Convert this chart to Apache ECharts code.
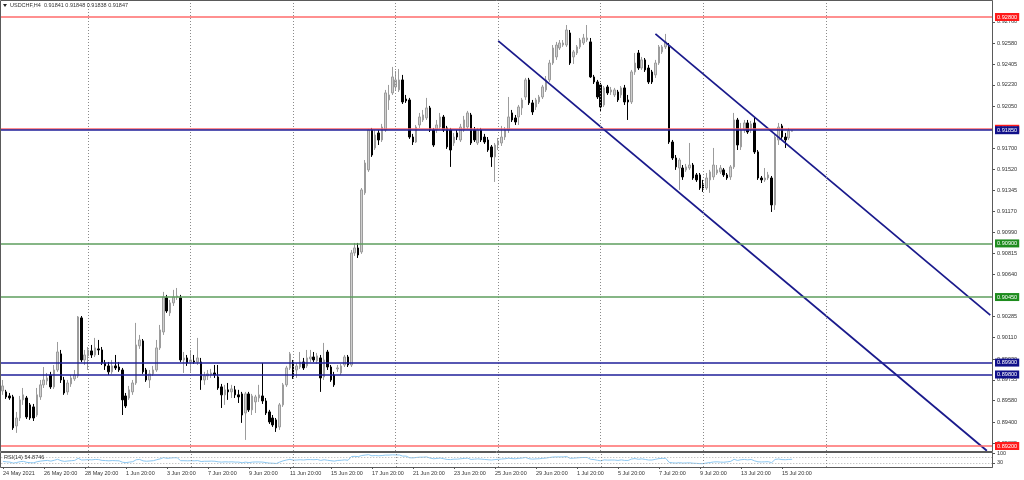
<!DOCTYPE html>
<html><head><meta charset="utf-8">
<script src="https://cdn.jsdelivr.net/npm/echarts@6/dist/echarts.min.js"></script>
<style>html,body{margin:0;padding:0;background:#fff}#c{width:1024px;height:480px}</style>
</head><body><div id="c"></div>
<script>
// ---- data (USDCHF H4, 24 May 2021 20:00 .. 16 Jul 2021 08:00) ----
const opens = [.89662,.89654,.89620,.89612,.89368,.89435,.89587,.89603,.89545,.89528,
.89460,.89612,.89713,.89746,.89796,.89696,.89838,.89973,.89754,.89654,
.89721,.89763,.89788,.90275,.89922,.89956,.89998,.89964,.90015,.90006,
.89897,.89872,.89822,.89872,.89863,.89838,.89620,.89603,.89654,.89729,
.90040,.90082,.89838,.89754,.89805,.89838,.90023,.90157,.90443,.90317,
.90401,.90451,.90443,.89922,.89939,.89905,.89914,.89905,.89905,.89754,
.89788,.89796,.89813,.89780,.89696,.89629,.89671,.89654,.89671,.89629,
.89637,.89477,.89637,.89503,.89570,.89603,.89620,.89578,.89486,.89435,
.89419,.89360,.89545,.89713,.89855,.89905,.89838,.89863,.89905,.89872,
.89931,.89947,.89914,.89939,.89780,.89989,.89863,.89796,.89847,.89813,
.89880,.89947,.89880,.90820,.90862,.90828,.91324,.91517,.91852,.91701,
.91827,.91768,.91852,.92104,.92163,.92213,.92188,.92272,.92112,.92104,
.91793,.91751,.91894,.91936,.91953,.92037,.91852,.91852,.91877,.91961,
.91869,.91852,.91743,.91827,.91768,.91852,.91877,.91978,.91852,.91743,
.91852,.91793,.91768,.91710,.91626,.91726,.91743,.91793,.91852,.91995,
.91953,.91961,.92037,.92129,.92272,.92079,.92045,.92087,.92129,.92188,
.92272,.92414,.92465,.92540,.92565,.92565,.92666,.92465,.92498,.92549,
.92582,.92607,.92591,.92297,.92255,.92230,.92062,.92213,.92171,.92146,
.92171,.92146,.92205,.92104,.92087,.92339,.92498,.92372,.92440,.92372,
.92339,.92314,.92414,.92507,.92549,.92549,.91751,.91617,.91533,.91533,
.91517,.91533,.91558,.91475,.91475,.91391,.91365,.91433,.91458,.91491,
.91500,.91517,.91475,.91458,.91542,.91936,.91710,.91852,.91911,.91852,
.91911,.91668,.91449,.91433,.91449,.91449,.91223,.91768,.91886,.91793,
.91785,.91841];
const closes = [.89704,.89612,.89603,.89352,.89435,.89587,.89629,.89444,.89435,.89435,
.89629,.89713,.89754,.89771,.89696,.89838,.89989,.89754,.89645,.89729,
.89771,.89796,.90283,.89922,.89964,.90006,.89964,.90023,.90006,.89897,
.89872,.89822,.89872,.89855,.89838,.89587,.89536,.89671,.89729,.90048,
.90090,.89822,.89754,.89805,.89838,.90023,.90174,.90451,.90333,.90401,
.90451,.90459,.89922,.89939,.89897,.89922,.89905,.89939,.89754,.89788,
.89805,.89813,.89796,.89687,.89629,.89671,.89654,.89679,.89629,.89612,
.89460,.89637,.89503,.89620,.89612,.89629,.89578,.89477,.89402,.89377,
.89352,.89545,.89713,.89855,.89973,.89780,.89872,.89905,.89855,.89939,
.89947,.89922,.89956,.89771,.89922,.89863,.89754,.89713,.89855,.89872,
.89947,.89880,.90820,.90862,.90803,.91349,.91575,.91852,.91642,.91810,
.91768,.91877,.92163,.92146,.92297,.92272,.92272,.92087,.92096,.91793,
.91751,.91877,.91961,.91978,.92037,.91852,.91726,.91894,.91961,.91852,
.91710,.91684,.91793,.91793,.91877,.91936,.91995,.91743,.91768,.91852,
.91768,.91751,.91684,.91626,.91726,.91760,.91793,.91852,.91961,.91936,
.91919,.92045,.92104,.92272,.92079,.92003,.92104,.92129,.92213,.92272,
.92414,.92540,.92565,.92582,.92582,.92691,.92414,.92507,.92549,.92607,
.92624,.92624,.92297,.92255,.92129,.92045,.92205,.92163,.92188,.92188,
.92104,.92205,.92087,.92087,.92339,.92414,.92372,.92440,.92356,.92255,
.92255,.92414,.92549,.92549,.92591,.91751,.91617,.91542,.91600,.91458,
.91542,.91558,.91449,.91433,.91365,.91365,.91449,.91500,.91558,.91517,
.91533,.91475,.91449,.91542,.91936,.91726,.91852,.91911,.91835,.91903,
.91668,.91449,.91433,.91449,.91475,.91223,.91793,.91877,.91793,.91768,
.91844,.91847];
const lows = [.89629,.89595,.89587,.89335,.89310,.89410,.89545,.89427,.89419,.89410,
.89444,.89587,.89687,.89713,.89679,.89679,.89822,.89729,.89629,.89629,
.89696,.89746,.89771,.89905,.89880,.89838,.89939,.89947,.89964,.89880,
.89838,.89796,.89805,.89838,.89822,.89460,.89519,.89587,.89629,.89713,
.90015,.89805,.89738,.89687,.89788,.89822,.90006,.90132,.90317,.90291,
.90375,.90426,.89905,.89813,.89872,.89822,.89889,.89880,.89671,.89713,
.89754,.89771,.89771,.89671,.89519,.89545,.89587,.89603,.89603,.89561,
.89394,.89251,.89486,.89460,.89477,.89570,.89553,.89460,.89385,.89360,
.89318,.89335,.89528,.89696,.89838,.89763,.89771,.89847,.89838,.89855,
.89905,.89905,.89889,.89654,.89754,.89838,.89738,.89696,.89822,.89796,
.89863,.89863,.89863,.90795,.90778,.90812,.91307,.91500,.91626,.91684,
.91726,.91751,.91835,.92020,.92146,.92188,.92171,.92070,.92079,.91777,
.91726,.91743,.91869,.91919,.91936,.91835,.91710,.91827,.91861,.91835,
.91693,.91542,.91718,.91768,.91751,.91835,.91861,.91726,.91751,.91726,
.91751,.91735,.91668,.91542,.91416,.91684,.91718,.91768,.91827,.91919,
.91894,.91894,.91978,.92104,.92062,.91978,.92020,.92070,.92112,.92171,
.92255,.92398,.92440,.92523,.92549,.92549,.92398,.92406,.92481,.92532,
.92565,.92591,.92289,.92238,.92112,.92003,.92045,.92146,.92146,.92129,
.92087,.92121,.92062,.91936,.92070,.92314,.92356,.92356,.92339,.92238,
.92238,.92289,.92398,.92490,.92532,.91735,.91600,.91517,.91349,.91433,
.91500,.91517,.91433,.91416,.91349,.91332,.91349,.91324,.91433,.91475,
.91483,.91458,.91433,.91433,.91525,.91684,.91684,.91827,.91819,.91827,
.91651,.91433,.91407,.91416,.91433,.91164,.91181,.91726,.91777,.91701,
.91768,.91838];
const highs = [.89754,.89671,.89645,.89629,.89486,.89620,.89687,.89620,.89561,.89553,
.89687,.89754,.89863,.89813,.89822,.89880,.90073,.90006,.89780,.89754,
.89796,.89838,.90291,.90291,.90006,.90031,.90048,.90107,.90090,.90031,
.89922,.89905,.89922,.89964,.89905,.89855,.89645,.89704,.89754,.90233,
.90132,.90098,.89855,.89838,.89872,.90090,.90216,.90493,.90468,.90426,
.90510,.90526,.90468,.89989,.89964,.90006,.89964,.90107,.89939,.89822,
.89838,.89847,.89880,.89880,.89721,.89713,.89729,.89713,.89704,.89671,
.89654,.89654,.89654,.89637,.89629,.89713,.89897,.89603,.89503,.89460,
.89435,.89561,.89729,.89872,.89989,.89922,.89897,.89989,.89939,.90006,
.90006,.89989,.89981,.89964,.90065,.90006,.89880,.89822,.89880,.89889,
.89964,.89964,.90845,.90904,.90904,.91365,.91600,.91861,.91869,.91852,
.91852,.91903,.92188,.92230,.92381,.92347,.92364,.92314,.92146,.92121,
.91819,.91894,.91995,.92020,.92121,.92054,.91869,.91936,.91995,.91978,
.91886,.91869,.91827,.91852,.91903,.91970,.92012,.91995,.91877,.91869,
.91869,.91819,.91793,.91726,.91743,.91785,.91886,.91877,.92129,.92020,
.91978,.92062,.92121,.92289,.92289,.92104,.92121,.92146,.92230,.92305,
.92440,.92565,.92591,.92607,.92607,.92733,.92691,.92523,.92565,.92624,
.92658,.92733,.92624,.92314,.92272,.92247,.92221,.92230,.92213,.92205,
.92188,.92221,.92230,.92146,.92356,.92498,.92523,.92465,.92456,.92398,
.92356,.92440,.92565,.92565,.92658,.92582,.91768,.91642,.91617,.91558,
.91567,.91743,.91575,.91491,.91491,.91433,.91491,.91517,.91701,.91558,
.91558,.91533,.91491,.91558,.91995,.91953,.91911,.91936,.91936,.91928,
.91953,.91684,.91466,.91533,.91500,.91466,.91810,.91911,.91903,.91827,
.91869,.91848];
const rsi = [40,37,35,28,32,38,40,33,31,30,
38,42,45,47,42,48,55,45,40,43,45,47,
62,50,51,53,51,54,53,47,46,44,46,45,44,
34,31,35,38,52,54,44,41,43,45,52,58,67,
62,64,66,66,45,45,44,45,44,46,
39,41,41,42,41,37,35,37,36,37,35,35,30,35,31,35,36,36,35,31,28,27,25,
35,44,50,55,49,50,52,50,53,53,52,54,47,52,48,45,42,47,48,51,48,
75,76,74,82,85,88,80,82,80,82,85,85,87,86,86,78,78,
66,65,68,70,70,72,64,59,61,64,59,54,53,56,56,59,61,63,54,56,58,56,54,52,50,53,55,
57,59,63,60,59,62,64,68,59,56,58,59,62,64,68,71,72,72,72,75,62,63,65,67,68,68,55,53,48,44,
51,49,50,50,47,51,47,47,57,60,55,58,54,50,50,55,60,61,62,
33,30,28,31,28,29,30,27,26,24,24,29,32,36,37,35,34,37,
40,55,47,52,54,51,54,44,37,36,37,38,31,54,57,53,52,54,54.87];

const xTickBars = [0,12,24,36,48,60,72,84,96,108,120,132,144,156,168,180,192,204,216,228];
const xTickLabels = ['24 May 2021','26 May 20:00','28 May 20:00','1 Jun 20:00','3 Jun 20:00','7 Jun 20:00',
  '9 Jun 20:00','11 Jun 20:00','15 Jun 20:00','17 Jun 20:00','21 Jun 20:00','23 Jun 20:00','25 Jun 20:00',
  '29 Jun 20:00','1 Jul 20:00','5 Jul 20:00','7 Jul 20:00','9 Jul 20:00','13 Jul 20:00','15 Jul 20:00'];
const priceTicks = [0.92760,0.92580,0.92405,0.92230,0.92050,0.91700,0.91520,0.91345,0.91170,0.90990,
  0.90815,0.90640,0.90285,0.90110,0.89930,0.89755,0.89580,0.89400,0.89225];
const weekLineBars = [25,55,85,115,145,175,205,241];
const levelValues = [0.92800,0.91862,0.91850,0.90900,0.90450,0.89900,0.89800,0.89200];
const levelKinds = ['r','r','b','g','g','b','b','r'];
const channelUpper = [[191,0.92658],[289,0.90298]];
const channelLower = [[145,0.92600],[288,0.89160]];
const rsiLevels = [70,30];
const rsiTicks = [100,30];
const header = 'USDCHF,H4  0.91841 0.91848 0.91838 0.91847';
const rsiTitle = 'RSI(14) 54.8746';

// ---- layout / style ----
const SLOTS = 290;
const Y_MIN = 0.89158, Y_MAX = 0.929343;
const lineCol = {r:'#ff6b6b', g:'#5e9e5e', b:'#1f1f9a'};
const boxCol  = {r:'#ff1a1a', g:'#1e8c1e', b:'#10108a'};
const FONT = 'Liberation Sans';

const slots = Array.from({length:SLOTS}, (_, i) => String(i));
const candleData = opens.map((o, i) => [o, closes[i], lows[i], highs[i]]);
const isTick = (i) => xTickBars.indexOf(i) >= 0;

const weekMarks = weekLineBars.map(b => ({xAxis: String(b), label:{show:false},
  lineStyle:{color:'#8a8a8a', type:[1,2], width:1}}));
const levelMarks = levelValues.map((v, i) => ({
  yAxis: v,
  lineStyle:{color: lineCol[levelKinds[i]], width:1.6, type:'solid'},
  label:{show:true, position:'end', distance:3, formatter: () => v.toFixed(5),
    backgroundColor: boxCol[levelKinds[i]], color:'#fff', fontSize:5.6, fontFamily:FONT,
    padding:[1,2,0,2], lineHeight:7}
}));

const chart = echarts.init(document.getElementById('c'), null, {renderer:'canvas'});
chart.setOption({
  animation:false,
  backgroundColor:'#ffffff',
  textStyle:{fontFamily:FONT},
  grid:[{left:1,right:32,top:1,height:450},{left:1,right:32,top:453,height:14}],
  xAxis:[
    {type:'category', data:slots, gridIndex:0, boundaryGap:true,
     axisLine:{show:false}, axisTick:{show:false}, axisLabel:{show:false}, splitLine:{show:false}},
    {type:'category', data:slots, gridIndex:1, boundaryGap:true,
     axisLine:{show:true, lineStyle:{color:'#777'}},
     axisTick:{show:true, alignWithLabel:true, interval:(i)=>isTick(i), length:2, lineStyle:{color:'#555'}},
     axisLabel:{show:true, interval:(i)=>isTick(i), formatter:(v)=>xTickLabels[xTickBars.indexOf(+v)],
       fontSize:5.5, color:'#333', align:'left', margin:3, fontFamily:FONT},
     splitLine:{show:false}}
  ],
  yAxis:[
    {type:'value', gridIndex:0, position:'right', min:Y_MIN, max:Y_MAX,
     splitLine:{show:false},
     axisLine:{show:true, lineStyle:{color:'#888'}},
     axisTick:{show:true, customValues:priceTicks, length:3, lineStyle:{color:'#555'}},
     axisLabel:{show:true, customValues:priceTicks, formatter:(v)=>Number(v).toFixed(5),
       fontSize:5.6, color:'#333', margin:5, fontFamily:FONT}},
    {type:'value', gridIndex:1, position:'right', min:0, max:100,
     splitLine:{show:false},
     axisLine:{show:true, lineStyle:{color:'#888'}},
     axisTick:{show:true, customValues:rsiTicks, length:3, lineStyle:{color:'#555'}},
     axisLabel:{show:true, customValues:rsiTicks, fontSize:5.5, color:'#333', margin:5, fontFamily:FONT}}
  ],
  series:[
    {type:'candlestick', name:'USDCHF', xAxisIndex:0, yAxisIndex:0, data:candleData, barWidth:2,
     itemStyle:{color:'#cfcfcf', color0:'#000000', borderColor:'#9c9c9c', borderColor0:'#000000', borderWidth:1},
     markLine:{silent:true, precision:5, symbol:['none','none'], animation:false, data: weekMarks.concat(levelMarks)}},
    {type:'line', xAxisIndex:0, yAxisIndex:0, data:channelUpper, symbol:'none',
     lineStyle:{color:'#1a1a8c', width:1.8}, z:4},
    {type:'line', xAxisIndex:0, yAxisIndex:0, data:channelLower, symbol:'none',
     lineStyle:{color:'#1a1a8c', width:1.8}, z:4},
    {type:'line', xAxisIndex:1, yAxisIndex:1, data:rsi, symbol:'none',
     lineStyle:{color:'#8cc8f2', width:1},
     markLine:{silent:true, precision:2, symbol:['none','none'], animation:false, label:{show:false},
       data: rsiLevels.map(v => ({yAxis:v, lineStyle:{color:'#b0b0b0', type:[1,2], width:1}}))
         .concat(weekLineBars.map(b => ({xAxis:String(b), lineStyle:{color:'#8a8a8a', type:[1,2], width:1}})))}}
  ],
  graphic:[
    {type:'rect', shape:{x:0.5, y:0.5, width:992, height:451}, style:{fill:null, stroke:'#5a5a5a', lineWidth:1}, z:10},
    {type:'rect', shape:{x:0.5, y:452.5, width:992, height:15}, style:{fill:null, stroke:'#5a5a5a', lineWidth:1}, z:10},
    {type:'polygon', shape:{points:[[3,4],[7,4],[5,7]]}, style:{fill:'#222'}, z:11},
    {type:'text', left:10, top:2, style:{text:header, fontSize:5.5, fill:'#333', fontFamily:FONT}, z:11},
    {type:'text', left:4, top:454, style:{text:rsiTitle, fontSize:5.5, fill:'#333', fontFamily:FONT}, z:11}
  ]
});
</script></body></html>
